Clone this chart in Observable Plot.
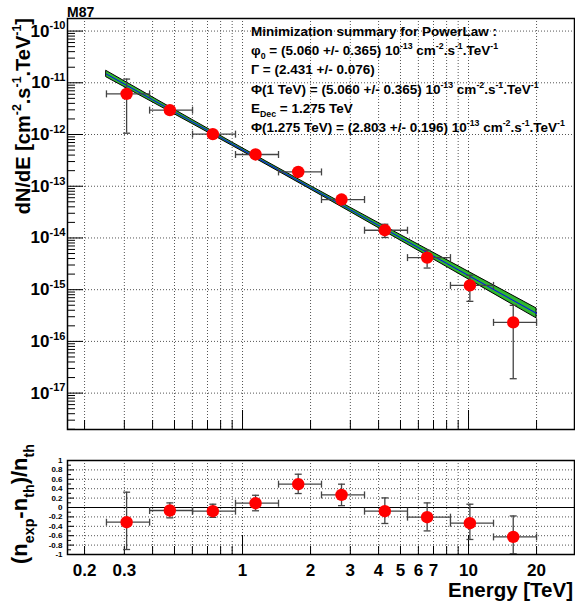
<!DOCTYPE html>
<html><head><meta charset="utf-8">
<script src="https://cdn.jsdelivr.net/npm/d3@7"></script>
<script src="https://cdn.jsdelivr.net/npm/@observablehq/plot@0.6"></script>
<style>
body{margin:0;background:#fff;}
#wrap{position:relative;width:575px;height:605px;background:#fff;}
#wrap svg{position:absolute;left:0;overflow:visible;}
</style></head><body><div id="wrap"></div>
<script>
// ---- data ----
const energy   = [0.307, 0.477, 0.739, 1.142, 1.764, 2.742, 4.263, 6.56, 10.14, 15.77];
const eLow     = [0.250, 0.388, 0.601, 0.931, 1.443, 2.236, 3.466, 5.37, 8.32, 12.9];
const eHigh    = [0.388, 0.601, 0.931, 1.443, 2.236, 3.466, 5.37, 8.32, 12.9, 20.0];
const flux     = [6.11e-12, 2.96e-12, 1.016e-12, 4.11e-13, 1.89e-13, 5.53e-14, 1.41e-14, 4.17e-15, 1.21e-15, 2.33e-16];
const fluxLow  = [1.06e-12, 2.46e-12, 0.86e-12, 3.50e-13, 1.63e-13, 4.50e-14, 1.02e-14, 2.62e-15, 0.595e-15, 1.9e-17];
const fluxHigh = [1.18e-11, 3.46e-12, 1.17e-12, 4.72e-13, 2.15e-13, 6.50e-14, 1.84e-14, 5.78e-15, 1.90e-15, 4.98e-16];
const resid     = [-0.313, -0.064, -0.079, 0.091, 0.496, 0.268, -0.079, -0.206, -0.334, -0.626];
const residLow  = [-0.894, -0.220, -0.210, -0.070, 0.297, 0.040, -0.340, -0.498, -0.680, -0.987];
const residHigh = [0.326, 0.098, 0.070, 0.260, 0.708, 0.496, 0.204, 0.098, 0.070, -0.180];
// fitted power-law butterfly
const bandE    = [0.25, 0.4, 0.6, 0.9, 1.275, 2, 3, 5, 8, 12, 20];
const bandMid  = [1.472e-11, 4.695e-12, 1.752e-12, 6.536e-13, 2.804e-13, 9.385e-14, 3.501e-14, 1.012e-14, 3.227e-15, 1.204e-15, 3.478e-16];
const bandHigh = [1.697e-11, 5.254e-12, 1.918e-12, 7.047e-13, 3.006e-13, 1.014e-13, 3.852e-14, 1.146e-14, 3.772e-15, 1.448e-15, 4.338e-16];
const bandLow  = [1.277e-11, 4.195e-12, 1.600e-12, 6.065e-13, 2.615e-13, 8.684e-14, 3.183e-14, 8.926e-15, 2.761e-15, 1.002e-15, 2.789e-16];
// ticks and labels
const xMinor = [0.2,0.3,0.4,0.5,0.6,0.7,0.8,0.9,2,3,4,5,6,7,8,9,20];
const xMajor = [1,10];
const xGrid = [0.2,0.3,0.4,0.5,0.6,0.7,0.8,0.9,1,2,3,4,5,6,7,8,9,10,20];
const xLabels = [0.2,0.3,1,2,3,4,5,6,7,10,20];
const yDecades = [1e-17,1e-16,1e-15,1e-14,1e-13,1e-12,1e-11,1e-10];
const yDecadeLabels = ["10^{-17}","10^{-16}","10^{-15}","10^{-14}","10^{-13}","10^{-12}","10^{-11}","10^{-10}"];
const yMinor = [2e-18,3e-18,4e-18,5e-18,6e-18,7e-18,8e-18,9e-18].concat(
  ...yDecades.slice(0,7).map(d => [2,3,4,5,6,7,8,9].map(k => k*d)));
const rMajor = [-0.8,-0.6,-0.4,-0.2,0,0.2,0.4,0.6,0.8];
const rMinor = [-0.9,-0.7,-0.5,-0.3,-0.1,0.1,0.3,0.5,0.7,0.9];
const rGrid = [-0.8,-0.6,-0.4,-0.2,0.2,0.4,0.6,0.8];
const rLabels = [1,0.8,0.6,0.4,0.2,0,-0.2,-0.4,-0.6,-0.8,-1];
const title = "M87";
const legendLines = [
  "Minimization summary for PowerLaw :",
  "φ_{0} = (5.060 +/- 0.365) 10^{-13} cm^{-2}.s^{-1}.TeV^{-1}",
  "Γ = (2.431 +/- 0.076)",
  "Φ(1 TeV) = (5.060 +/- 0.365) 10^{-13} cm^{-2}.s^{-1}.TeV^{-1}",
  "E_{Dec} = 1.275 TeV",
  "Φ(1.275 TeV) = (2.803 +/- 0.196) 10^{-13} cm^{-2}.s^{-1}.TeV^{-1}"
];
const yTitleTop = "dN/dE [cm^{-2}.s^{-1}.TeV^{-1}]";
const yTitleBottom = "(n_{exp}-n_{th})/n_{th}";
const xTitle = "Energy [TeV]";

// ---- layout ----
const W = 575, FONT = "'Liberation Sans', Arial, Helvetica, sans-serif";
const xDomain = [0.1681, 29.44];
const yDomain = [1.98e-18, 1.75e-10];
const H1 = 440, mT1 = 18, mB1 = 11, mL = 67, mR = 1;
const H2 = 165, mT2 = 20, mB2 = 51;
const innerW = W - mL - mR, innerH1 = H1 - mT1 - mB1, innerH2 = H2 - mT2 - mB2;
const idx = d3.range(energy.length);
const bIdx = d3.range(bandE.length);
const dIdx = d3.range(yDecades.length);
const ERR = "#444";
const capV = {draw(c, s){const r = Math.sqrt(s/Math.PI); c.moveTo(0,-r); c.lineTo(0,r);}};
const capH = {draw(c, s){const r = Math.sqrt(s/Math.PI); c.moveTo(-r,0); c.lineTo(r,0);}};

function pointMarks(yv, yl, yh){
  const o = {stroke: ERR, strokeWidth: 1.3};
  return [
    Plot.ruleY(idx, {y: i=>yv[i], x1: i=>eLow[i], x2: i=>eHigh[i], ...o}),
    Plot.ruleX(idx, {x: i=>energy[i], y1: i=>yl[i], y2: i=>yh[i], ...o}),
    Plot.dot(idx, {x: i=>eLow[i], y: i=>yv[i], symbol: capV, r: 3.5, fill: "none", ...o}),
    Plot.dot(idx, {x: i=>eHigh[i], y: i=>yv[i], symbol: capV, r: 3.5, fill: "none", ...o}),
    Plot.dot(idx, {x: i=>energy[i], y: i=>yl[i], symbol: capH, r: 3.5, fill: "none", ...o}),
    Plot.dot(idx, {x: i=>energy[i], y: i=>yh[i], symbol: capH, r: 3.5, fill: "none", ...o}),
    Plot.dot(idx, {x: i=>energy[i], y: i=>yv[i], r: 6.2, fill: "#ff0000", stroke: "none"})
  ];
}
const grid = {stroke: "#555", strokeDasharray: "1,2", strokeWidth: 1};

const topPlot = Plot.plot({
  width: W, height: H1, marginLeft: mL, marginRight: mR, marginTop: mT1, marginBottom: mB1,
  style: {fontFamily: FONT, background: "transparent"},
  x: {type: "log", domain: xDomain, axis: null},
  y: {type: "log", domain: yDomain, axis: null},
  marks: [
    Plot.ruleX(xGrid, {x: d=>d, ...grid}),
    Plot.ruleY(yDecades, {y: d=>d, ...grid}),
    Plot.tickX(xMinor, {x: d=>d, insetTop: innerH1 - 9, stroke: "#000"}),
    Plot.tickX(xMajor, {x: d=>d, insetTop: innerH1 - 19, stroke: "#000"}),
    Plot.tickY(yDecades, {y: d=>d, insetRight: innerW - 16, stroke: "#000"}),
    Plot.tickY(yMinor, {y: d=>d, insetRight: innerW - 8, stroke: "#000"}),
    Plot.areaY(bIdx, {x: i=>bandE[i], y1: i=>bandLow[i], y2: i=>bandHigh[i], fill: "#2fb52f", stroke: "#000", strokeWidth: 1}),
    Plot.line(bIdx, {x: i=>bandE[i], y: i=>bandMid[i], stroke: "#0000ff", strokeWidth: 1}),
    ...pointMarks(flux, fluxLow, fluxHigh),
    Plot.text(dIdx, {y: i=>yDecades[i], frameAnchor: "left", dx: -2, textAnchor: "end",
      text: i => yDecadeLabels[i], fontSize: 17, fontWeight: "bold", fill: "#000"}),
    Plot.frame({stroke: "#000", strokeWidth: 1.5})
  ]
});

const botPlot = Plot.plot({
  width: W, height: H2, marginLeft: mL, marginRight: mR, marginTop: mT2, marginBottom: mB2,
  style: {fontFamily: FONT, background: "transparent"},
  x: {type: "log", domain: xDomain, axis: null},
  y: {type: "linear", domain: [-1, 1], axis: null},
  marks: [
    Plot.ruleX(xGrid, {x: d=>d, ...grid}),
    Plot.ruleY(rGrid, {y: d=>d, ...grid}),
    Plot.ruleY([0], {y: d=>d, stroke: "#000", strokeWidth: 1.2}),
    Plot.tickX(xMinor, {x: d=>d, insetTop: innerH2 - 8, stroke: "#000"}),
    Plot.tickX(xMajor, {x: d=>d, insetTop: innerH2 - 19, stroke: "#000"}),
    Plot.tickY(rMajor, {y: d=>d, insetRight: innerW - 7, stroke: "#000"}),
    Plot.tickY(rMinor, {y: d=>d, insetRight: innerW - 4, stroke: "#000"}),
    ...pointMarks(resid, residLow, residHigh),
    Plot.text(rLabels, {y: d=>d, frameAnchor: "left", dx: -5, textAnchor: "end",
      text: d => String(+d.toFixed(1)), fontSize: 8, fontWeight: "bold", fill: "#000", letterSpacing: 1.1}),
    Plot.text(xLabels, {x: d=>d, frameAnchor: "bottom", dy: 21, lineAnchor: "bottom",
      text: d => String(d), fontSize: 17, fontWeight: "bold", fill: "#000"}),
    Plot.frame({stroke: "#000", strokeWidth: 1.5})
  ]
});

const wrap = document.getElementById("wrap");
topPlot.style.top = "0px";
botPlot.style.top = H1 + "px";
wrap.appendChild(topPlot);
wrap.appendChild(botPlot);

// rich text: ^{...} superscript, _{...} subscript
const NS = "http://www.w3.org/2000/svg";
function rich(el, str, fs, opt = {}){
  const sc = opt.scale ?? 0.65, up = opt.up ?? 0.42, down = opt.down ?? 0.3;
  el.textContent = "";
  const re = /([\^_])\{([^}]*)\}/g;
  let last = 0, m, shift = 0;
  const add = (t, mode) => {
    if (!t) return;
    const ts = document.createElementNS(NS, "tspan");
    const target = mode === "sup" ? -up*fs : mode === "sub" ? down*fs : 0;
    if (target - shift !== 0) ts.setAttribute("dy", (target - shift).toFixed(2));
    shift = target;
    if (mode) ts.setAttribute("font-size", (fs*sc).toFixed(2));
    ts.textContent = t;
    el.appendChild(ts);
  };
  while ((m = re.exec(str))) {
    add(str.slice(last, m.index), null);
    add(m[2], m[1] === "^" ? "sup" : "sub");
    last = re.lastIndex;
  }
  add(str.slice(last), null);
}
topPlot.querySelectorAll("text").forEach(el => {
  if (/\^\{/.test(el.textContent)) rich(el, el.textContent, 17, {scale: 0.65, up: 0.42});
});

function addText(svg, x, y, str, fs, o = {}){
  const t = d3.select(svg).append("text")
    .attr("x", x).attr("y", y)
    .attr("font-family", FONT).attr("font-weight", "bold").attr("font-size", fs)
    .attr("fill", "#000").attr("text-anchor", o.anchor || "start");
  if (o.rotate) t.attr("x", null).attr("y", null).attr("transform", `translate(${x},${y}) rotate(-90)`);
  rich(t.node(), str, fs, o);
  return t;
}
addText(topPlot, 67, 16.5, title, 14);
legendLines.forEach((s, i) => addText(topPlot, 251, 36 + i*19.2, s, 13.5, {scale: 0.65, up: 0.45, down: 0.3}));
addText(topPlot, 30, 18, yTitleTop, 20, {rotate: true, anchor: "end", scale: 0.62, up: 0.45});
addText(botPlot, 27, 64, yTitleBottom, 22, {rotate: true, anchor: "middle", scale: 0.65, down: 0.3});
addText(botPlot, 573, 157, xTitle, 20.5, {anchor: "end"});
</script></body></html>
